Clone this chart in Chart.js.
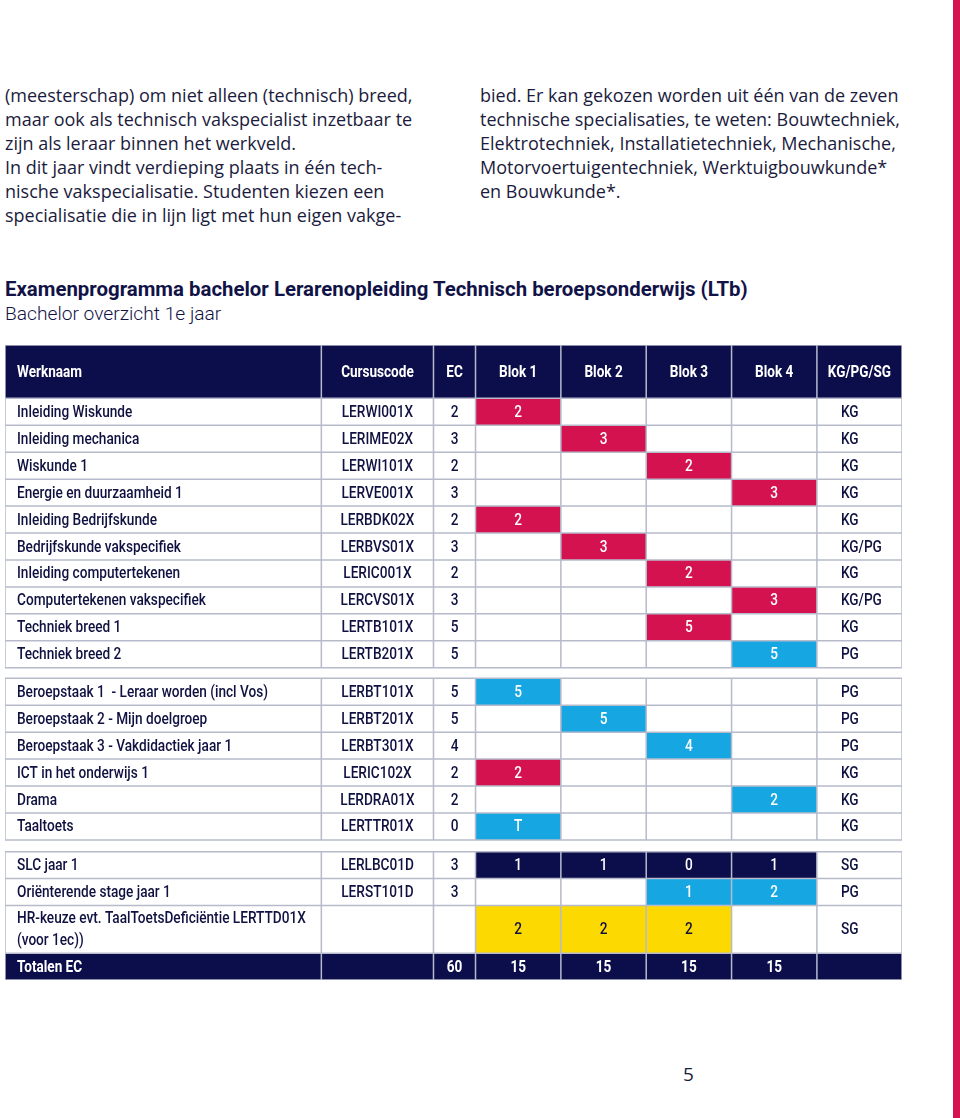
<!DOCTYPE html>
<html><head><meta charset="utf-8">
<script src="https://cdn.jsdelivr.net/npm/chart.js@4/dist/chart.umd.min.js"></script>
<style>
html,body{margin:0;padding:0;background:#fff;}
body{width:960px;height:1118px;overflow:hidden;position:relative;font-family:"Open Sans",sans-serif;color:#1b1b3d;}
.bar{position:absolute;left:953px;top:0;width:7px;height:1118px;background:#d4124f;}
.p{position:absolute;top:83px;font-size:18px;line-height:24.1px;white-space:nowrap;}
.t1{position:absolute;left:5px;top:277px;font-family:Roboto,sans-serif;font-weight:700;font-size:20.4px;color:#111347;white-space:nowrap;}
.t2{position:absolute;left:5px;top:302px;font-family:Roboto,sans-serif;font-weight:300;font-size:19.2px;color:#111347;white-space:nowrap;}
.pg{position:absolute;left:683px;top:1061px;font-size:19px;color:#1b1b3d;}
#wrap{position:absolute;left:5px;top:345px;width:897px;height:635px;}
</style></head>
<body>
<div class="bar"></div>
<div class="p" style="left:5px">(meesterschap) om niet alleen (technisch) breed,<br>maar ook als technisch vakspecialist inzetbaar te<br>zijn als leraar binnen het werkveld.<br>In dit jaar vindt verdieping plaats in één tech-<br>nische vakspecialisatie. Studenten kiezen een<br>specialisatie die in lijn ligt met hun eigen vakge-</div>
<div class="p" style="left:480px">bied. Er kan gekozen worden uit één van de zeven<br>technische specialisaties, te weten: Bouwtechniek,<br>Elektrotechniek, Installatietechniek, Mechanische,<br>Motorvoertuigentechniek, Werktuigbouwkunde*<br>en Bouwkunde*.</div>
<div class="t1">Examenprogramma bachelor Lerarenopleiding Technisch beroepsonderwijs (LTb)</div>
<div class="t2">Bachelor overzicht 1e jaar</div>
<div id="wrap"><canvas id="c" width="897" height="635"></canvas></div>
<div class="pg">5</div>
<script>
// ---- data ----
const headers = ["Werknaam","Cursuscode","EC","Blok 1","Blok 2","Blok 3","Blok 4","KG/PG/SG"];
const courses = ["Inleiding Wiskunde","Inleiding mechanica","Wiskunde 1","Energie en duurzaamheid 1","Inleiding Bedrijfskunde","Bedrijfskunde vakspecifiek","Inleiding computertekenen","Computertekenen vakspecifiek","Techniek breed 1","Techniek breed 2",
 "Beroepstaak 1  - Leraar worden (incl Vos)","Beroepstaak 2 - Mijn doelgroep","Beroepstaak 3 - Vakdidactiek jaar 1","ICT in het onderwijs 1","Drama","Taaltoets",
 "SLC jaar 1","Oriënterende stage jaar 1","HR-keuze evt. TaalToetsDeficiëntie LERTTD01X\n(voor 1ec))"];
const codes = ["LERWI001X","LERIME02X","LERWI101X","LERVE001X","LERBDK02X","LERBVS01X","LERIC001X","LERCVS01X","LERTB101X","LERTB201X",
 "LERBT101X","LERBT201X","LERBT301X","LERIC102X","LERDRA01X","LERTTR01X",
 "LERLBC01D","LERST101D",""];
const ec = [2,3,2,3,2,3,2,3,5,5, 5,5,4,2,2,0, 3,3,null];
const blok1 = [2,null,null,null,2,null,null,null,null,null, 5,null,null,2,null,"T", 1,null,2];
const blok2 = [null,3,null,null,null,3,null,null,null,null, null,5,null,null,null,null, 1,null,2];
const blok3 = [null,null,2,null,null,null,2,null,5,null, null,null,4,null,null,null, 0,1,2];
const blok4 = [null,null,null,3,null,null,null,3,null,5, null,null,null,null,2,null, 1,2,null];
const toetsvorm = ["KG","KG","KG","KG","KG","KG/PG","KG","KG/PG","KG","PG", "PG","PG","PG","KG","KG","KG", "SG","PG","SG"];
const groupSizes = [10,6,3];
const totalLabel = "Totalen EC";
const totalEC = 60;
const totalBlok = [15,15,15,15];

// ---- styles / layout ----
const C = {navy:"#0c0d4b", pink:"#d4124f", blue:"#16a7e2", yellow:"#fcd900", grid:"#b7bacb", text:"#0f1140"};
const rowFill = ["pink","pink","pink","pink","pink","pink","pink","pink","pink","blue",
 "blue","blue","blue","pink","blue","blue", "navy","blue","yellow"];
const colWidths = [316,112,42,85.25,85.25,85.25,85.25,85];
const headerH = 53.3, rowH = 26.9, hrH = 47.7, totH = 26.7, gaps = [10.6, 11.7];
const FONT = 'Roboto,"Liberation Sans",sans-serif';

const colEdges = [0]; colWidths.forEach(w => colEdges.push(colEdges[colEdges.length-1] + w));
const rows = []; let yy = 0;
rows.push({kind:"header", top:yy, h:headerH}); yy += headerH;
let idx = 0;
groupSizes.forEach((n, g) => {
  for (let i = 0; i < n; i++) {
    const h = courses[idx].includes("\n") ? hrH : rowH;
    rows.push({kind:"row", i:idx, top:yy, h, group:g}); yy += h; idx++;
  }
  if (g < groupSizes.length - 1) { yy += gaps[g]; }
});
rows.push({kind:"total", top:yy, h:totH, group:2}); yy += totH;
const tableH = yy;

const tablePlugin = {
  id: "table",
  afterDraw(chart) {
    const ctx = chart.ctx, xs = chart.scales.x, ys = chart.scales.y;
    const X = v => xs.getPixelForValue(v), Y = v => ys.getPixelForValue(v);
    const blocks = [blok1, blok2, blok3, blok4];
    ctx.save();
    // condensed text: horizontal squeeze factors
    ctx.font = "500 16px " + FONT;
    const sxN = 251 / ctx.measureText("Beroepstaak 1  - Leraar worden (incl Vos)").width;
    ctx.font = "700 16px " + FONT;
    const sxB = 65 / ctx.measureText("Werknaam").width;
    // fills
    rows.forEach(r => {
      const y0 = Y(r.top), y1 = Y(r.top + r.h);
      if (r.kind === "header" || r.kind === "total") {
        ctx.fillStyle = C.navy; ctx.fillRect(X(0), y0, X(colEdges[8]) - X(0), y1 - y0);
      } else {
        ctx.fillStyle = "#fff"; ctx.fillRect(X(0), y0, X(colEdges[8]) - X(0), y1 - y0);
        blocks.forEach((b, k) => {
          if (b[r.i] !== null) {
            ctx.fillStyle = C[rowFill[r.i]];
            ctx.fillRect(X(colEdges[3+k]), y0, X(colEdges[4+k]) - X(colEdges[3+k]), y1 - y0);
          }
        });
      }
    });
    // grid
    ctx.strokeStyle = C.grid; ctx.lineWidth = 1.5;
    const segs = [[rows[0], rows[10]], [rows[11], rows[16]], [rows[17], rows[rows.length-1]]];
    segs.forEach(([a, b]) => {
      const top = Y(a.top), bot = Y(b.top + b.h);
      ctx.beginPath();
      colEdges.forEach(e => { ctx.moveTo(X(e), top); ctx.lineTo(X(e), bot); });
      rows.filter(r => r.top >= a.top && r.top <= b.top).forEach(r => {
        ctx.moveTo(X(0), Y(r.top)); ctx.lineTo(X(colEdges[8]), Y(r.top));
      });
      ctx.moveTo(X(0), bot); ctx.lineTo(X(colEdges[8]), bot);
      ctx.stroke();
    });
    // text
    ctx.textBaseline = "middle";
    const cx = k => (X(colEdges[k]) + X(colEdges[k+1])) / 2;
    const put = (t, x, y, align, color, bold) => {
      if (t === null || t === "" || t === undefined) return;
      ctx.save();
      ctx.font = (bold ? "700 " : "500 ") + "16px " + FONT;
      ctx.fillStyle = color; ctx.textAlign = align;
      ctx.translate(x, y); ctx.scale(bold ? sxB : sxN, 1);
      ctx.fillText(String(t), 0, 0);
      ctx.restore();
    };
    rows.forEach(r => {
      const ym = Y(r.top + r.h / 2) + 1;
      if (r.kind === "header") {
        headers.forEach((h, k) => {
          if (k === 0) put(h, X(0) + 12, ym, "left", "#fff", true);
          else put(h, cx(k), ym, "center", "#fff", true);
        });
      } else if (r.kind === "total") {
        put(totalLabel, X(0) + 12, ym, "left", "#fff", true);
        put(totalEC, cx(2), ym, "center", "#fff", true);
        totalBlok.forEach((v, k) => put(v, cx(3+k), ym, "center", "#fff", true));
      } else {
        const i = r.i;
        const lines = courses[i].split("\n");
        lines.forEach((ln, j) => put(ln, X(0) + 12, ym + (j - (lines.length-1)/2) * 22, "left", C.text, false));
        put(codes[i], cx(1), ym, "center", C.text, false);
        put(ec[i], cx(2), ym, "center", C.text, false);
        const tc = rowFill[i] === "yellow" ? C.text : "#fff";
        blocks.forEach((b, k) => put(b[i], cx(3+k), ym, "center", tc, false));
        put(toetsvorm[i], X(colEdges[7]) + 24, ym, "left", C.text, false);
      }
    });
    ctx.restore();
  }
};

new Chart(document.getElementById("c"), {
  type: "scatter",
  data: { datasets: [{ data: [] }] },
  options: {
    responsive: false, animation: false, events: [],
    layout: { padding: 0 },
    plugins: { legend: { display: false }, tooltip: { enabled: false } },
    scales: {
      x: { type: "linear", min: 0, max: colEdges[8], display: false },
      y: { type: "linear", min: 0, max: tableH, reverse: true, display: false }
    }
  },
  plugins: [tablePlugin]
});
</script>
</body></html>
